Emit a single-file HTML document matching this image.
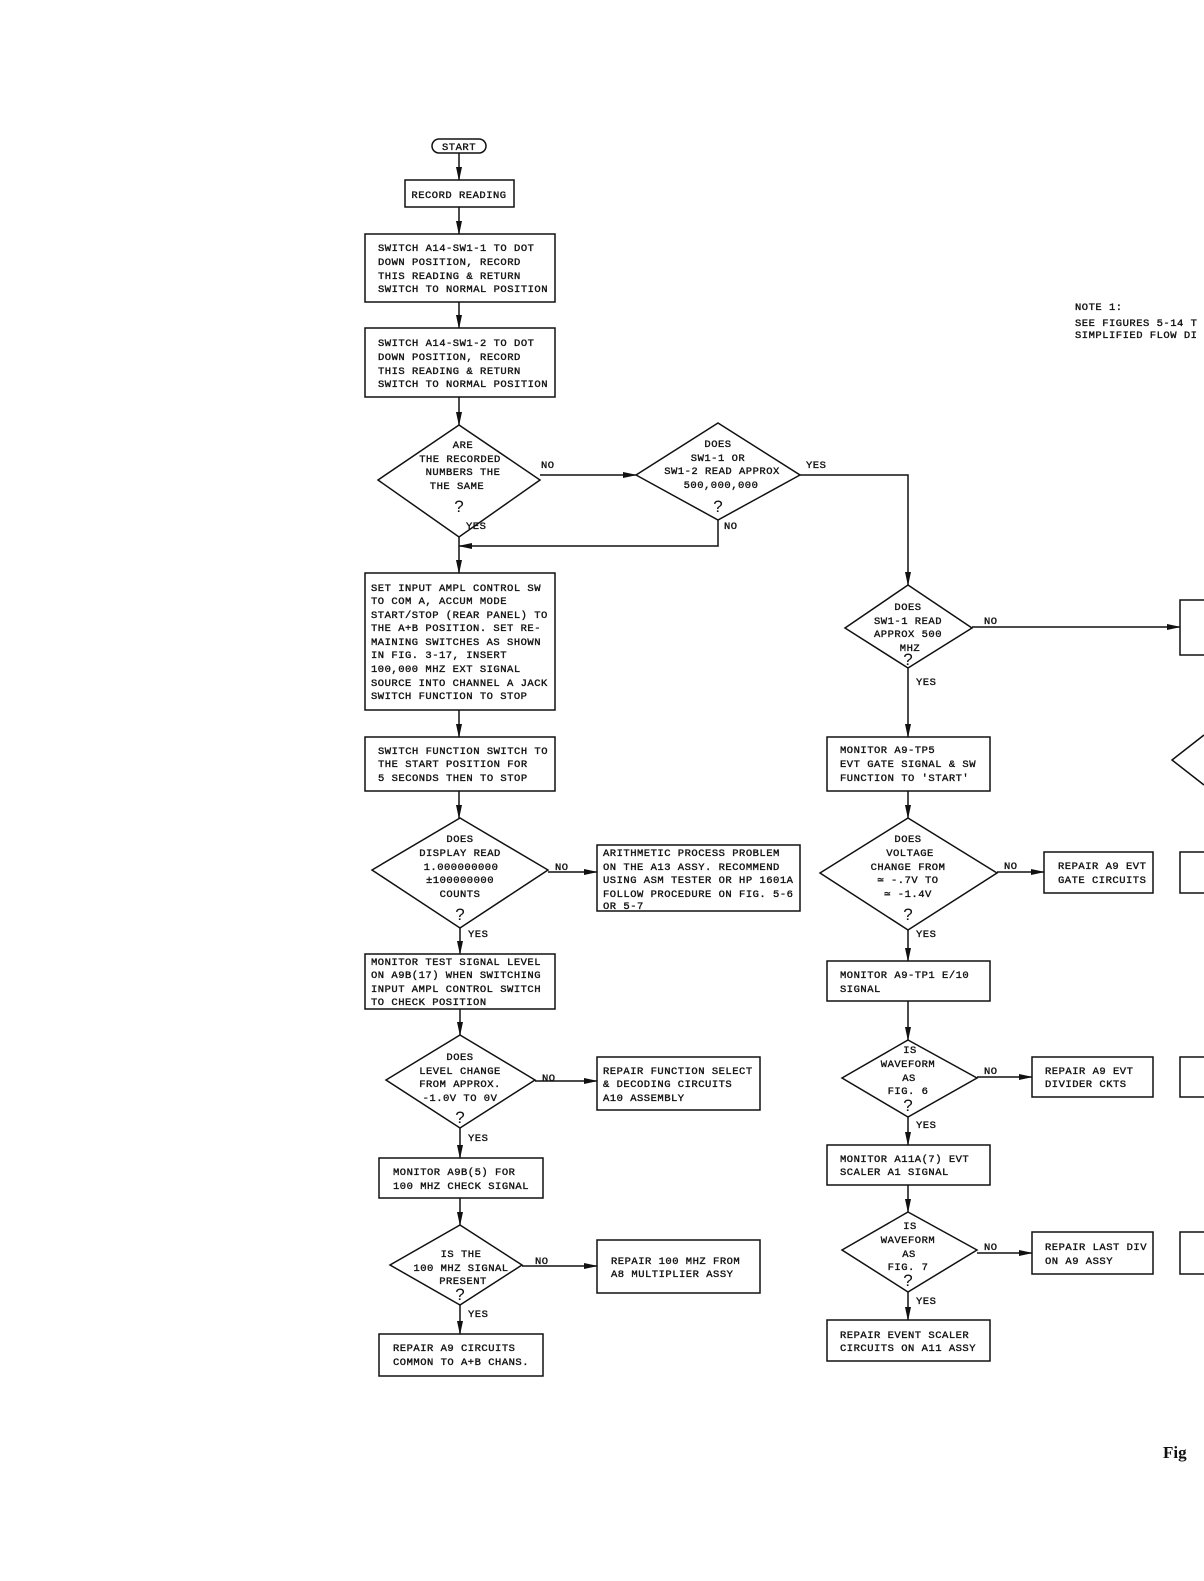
<!DOCTYPE html>
<html><head><meta charset="utf-8"><style>
html,body{margin:0;padding:0;background:#fff;}
svg{display:block;}
text{font-family:"Liberation Mono",monospace;font-size:10.5px;letter-spacing:0.5px;fill:#111;stroke:#111;stroke-width:0.35px;}
.c{text-anchor:middle;}
.q{font-family:"Liberation Sans",sans-serif;font-size:17px;letter-spacing:0;stroke-width:0;}
.fig{font-family:"Liberation Serif",serif;font-weight:bold;font-size:17px;letter-spacing:0;stroke-width:0;}
</style></head><body>
<svg width="1204" height="1581" viewBox="0 0 1204 1581" xmlns="http://www.w3.org/2000/svg">
<defs><marker id="a" markerWidth="14" markerHeight="8" refX="13" refY="4" orient="auto" markerUnits="userSpaceOnUse"><path d="M0,1 L14,4 L0,7 z" fill="#111"/></marker></defs>
<g stroke="#111" stroke-width="1.5" fill="none">
<rect x="432" y="139" width="54" height="14" rx="7"/>
<line x1="459" y1="153" x2="459" y2="180" marker-end="url(#a)"/>
<rect x="405" y="180" width="109" height="27"/>
<line x1="459" y1="207" x2="459" y2="234" marker-end="url(#a)"/>
<rect x="365" y="234" width="190" height="68"/>
<line x1="459" y1="302" x2="459" y2="328" marker-end="url(#a)"/>
<rect x="365" y="328" width="190" height="69"/>
<line x1="459" y1="397" x2="459" y2="425" marker-end="url(#a)"/>
<polygon points="459,425 540,480 459,537 378,480"/>
<line x1="540" y1="475" x2="636" y2="475" marker-end="url(#a)"/>
<polygon points="718,423 800,475 718,520 636,475"/>
<polyline points="718,520 718,546 459,546" marker-end="url(#a)"/>
<line x1="459" y1="537" x2="459" y2="573" marker-end="url(#a)"/>
<rect x="365" y="573" width="190" height="137"/>
<line x1="459" y1="710" x2="459" y2="737" marker-end="url(#a)"/>
<rect x="365" y="737" width="190" height="54"/>
<line x1="459" y1="791" x2="459" y2="818" marker-end="url(#a)"/>
<polygon points="460,818 548,870 460,928 372,870"/>
<line x1="548" y1="872" x2="597" y2="872" marker-end="url(#a)"/>
<rect x="597" y="845" width="203" height="66"/>
<line x1="460" y1="928" x2="460" y2="954" marker-end="url(#a)"/>
<rect x="365" y="954" width="190" height="55"/>
<line x1="460" y1="1009" x2="460" y2="1035" marker-end="url(#a)"/>
<polygon points="460,1035 535,1080 460,1128 386,1080"/>
<line x1="535" y1="1081" x2="597" y2="1081" marker-end="url(#a)"/>
<rect x="597" y="1057" width="163" height="53"/>
<line x1="460" y1="1128" x2="460" y2="1158" marker-end="url(#a)"/>
<rect x="379" y="1158" width="164" height="40"/>
<line x1="460" y1="1198" x2="460" y2="1225" marker-end="url(#a)"/>
<polygon points="460,1225 522,1265 460,1305 390,1265"/>
<line x1="522" y1="1266" x2="597" y2="1266" marker-end="url(#a)"/>
<rect x="597" y="1240" width="163" height="53"/>
<line x1="460" y1="1305" x2="460" y2="1334" marker-end="url(#a)"/>
<rect x="379" y="1334" width="164" height="42"/>
<polyline points="800,475 908,475 908,585" marker-end="url(#a)"/>
<polygon points="908,585 972,628 908,668 845,628"/>
<line x1="972" y1="627" x2="1180" y2="627" marker-end="url(#a)"/>
<polyline points="1204,600 1180,600 1180,655 1204,655"/>
<line x1="908" y1="668" x2="908" y2="737" marker-end="url(#a)"/>
<rect x="827" y="737" width="163" height="54"/>
<polyline points="1204,735 1172,760 1204,785"/>
<line x1="908" y1="791" x2="908" y2="818" marker-end="url(#a)"/>
<polygon points="908,818 997,873 908,930 820,873"/>
<line x1="997" y1="872" x2="1044" y2="872" marker-end="url(#a)"/>
<rect x="1044" y="852" width="109" height="41"/>
<polyline points="1204,852 1180,852 1180,893 1204,893"/>
<line x1="908" y1="930" x2="908" y2="961" marker-end="url(#a)"/>
<rect x="827" y="961" width="163" height="40"/>
<line x1="908" y1="1001" x2="908" y2="1040" marker-end="url(#a)"/>
<polygon points="908,1040 977,1078 908,1117 842,1078"/>
<line x1="977" y1="1077" x2="1032" y2="1077" marker-end="url(#a)"/>
<rect x="1032" y="1057" width="121" height="40"/>
<polyline points="1204,1057 1180,1057 1180,1097 1204,1097"/>
<line x1="908" y1="1117" x2="908" y2="1145" marker-end="url(#a)"/>
<rect x="827" y="1145" width="163" height="40"/>
<line x1="908" y1="1185" x2="908" y2="1212" marker-end="url(#a)"/>
<polygon points="908,1212 977,1250 908,1292 842,1250"/>
<line x1="977" y1="1253" x2="1032" y2="1253" marker-end="url(#a)"/>
<rect x="1032" y="1232" width="121" height="42"/>
<polyline points="1204,1232 1180,1232 1180,1274 1204,1274"/>
<line x1="908" y1="1292" x2="908" y2="1320" marker-end="url(#a)"/>
<rect x="827" y="1320" width="163" height="41"/>
</g>
<text x="459" y="150" class="c">START</text>
<text x="459" y="198" class="c">RECORD READING</text>
<text x="378" y="251">SWITCH A14-SW1-1 TO DOT</text>
<text x="378" y="265">DOWN POSITION, RECORD</text>
<text x="378" y="279">THIS READING &amp; RETURN</text>
<text x="378" y="292">SWITCH TO NORMAL POSITION</text>
<text x="378" y="346">SWITCH A14-SW1-2 TO DOT</text>
<text x="378" y="360">DOWN POSITION, RECORD</text>
<text x="378" y="374">THIS READING &amp; RETURN</text>
<text x="378" y="387">SWITCH TO NORMAL POSITION</text>
<text x="463" y="448" class="c">ARE</text>
<text x="460" y="462" class="c">THE RECORDED</text>
<text x="463" y="475" class="c">NUMBERS THE</text>
<text x="457" y="489" class="c">THE SAME</text>
<text x="459" y="512" class="c q">?</text>
<text x="466" y="529">YES</text>
<text x="541" y="468">NO</text>
<text x="718" y="447" class="c">DOES</text>
<text x="718" y="461" class="c">SW1-1 OR</text>
<text x="722" y="474" class="c">SW1-2 READ APPROX</text>
<text x="721" y="488" class="c">500,000,000</text>
<text x="718" y="512" class="c q">?</text>
<text x="724" y="529">NO</text>
<text x="806" y="468">YES</text>
<text x="371" y="591">SET INPUT AMPL CONTROL SW</text>
<text x="371" y="604">TO COM A, ACCUM MODE</text>
<text x="371" y="618">START/STOP (REAR PANEL) TO</text>
<text x="371" y="631">THE A+B POSITION. SET RE-</text>
<text x="371" y="645">MAINING SWITCHES AS SHOWN</text>
<text x="371" y="658">IN FIG. 3-17, INSERT</text>
<text x="371" y="672">100,000 MHZ EXT SIGNAL</text>
<text x="371" y="686">SOURCE INTO CHANNEL A JACK</text>
<text x="371" y="699">SWITCH FUNCTION TO STOP</text>
<text x="378" y="754">SWITCH FUNCTION SWITCH TO</text>
<text x="378" y="767">THE START POSITION FOR</text>
<text x="378" y="781">5 SECONDS THEN TO STOP</text>
<text x="460" y="842" class="c">DOES</text>
<text x="460" y="856" class="c">DISPLAY READ</text>
<text x="461" y="870" class="c">1.000000000</text>
<text x="460" y="883" class="c">±100000000</text>
<text x="460" y="897" class="c">COUNTS</text>
<text x="460" y="920" class="c q">?</text>
<text x="468" y="937">YES</text>
<text x="555" y="870">NO</text>
<text x="603" y="856">ARITHMETIC PROCESS PROBLEM</text>
<text x="603" y="870">ON THE A13 ASSY. RECOMMEND</text>
<text x="603" y="883">USING ASM TESTER OR HP 1601A</text>
<text x="603" y="897">FOLLOW PROCEDURE ON FIG. 5-6</text>
<text x="603" y="909">OR 5-7</text>
<text x="371" y="965">MONITOR TEST SIGNAL LEVEL</text>
<text x="371" y="978">ON A9B(17) WHEN SWITCHING</text>
<text x="371" y="992">INPUT AMPL CONTROL SWITCH</text>
<text x="371" y="1005">TO CHECK POSITION</text>
<text x="460" y="1060" class="c">DOES</text>
<text x="460" y="1074" class="c">LEVEL CHANGE</text>
<text x="460" y="1087" class="c">FROM APPROX.</text>
<text x="460" y="1101" class="c">-1.0V TO 0V</text>
<text x="460" y="1123" class="c q">?</text>
<text x="468" y="1141">YES</text>
<text x="542" y="1081">NO</text>
<text x="603" y="1074">REPAIR FUNCTION SELECT</text>
<text x="603" y="1087">&amp; DECODING CIRCUITS</text>
<text x="603" y="1101">A10 ASSEMBLY</text>
<text x="393" y="1175">MONITOR A9B(5) FOR</text>
<text x="393" y="1189">100 MHZ CHECK SIGNAL</text>
<text x="461" y="1257" class="c">IS THE</text>
<text x="461" y="1271" class="c">100 MHZ SIGNAL</text>
<text x="463" y="1284" class="c">PRESENT</text>
<text x="460" y="1300" class="c q">?</text>
<text x="468" y="1317">YES</text>
<text x="535" y="1264">NO</text>
<text x="611" y="1264">REPAIR 100 MHZ FROM</text>
<text x="611" y="1277">A8 MULTIPLIER ASSY</text>
<text x="393" y="1351">REPAIR A9 CIRCUITS</text>
<text x="393" y="1365">COMMON TO A+B CHANS.</text>
<text x="908" y="610" class="c">DOES</text>
<text x="908" y="624" class="c">SW1-1 READ</text>
<text x="908" y="637" class="c">APPROX 500</text>
<text x="910" y="651" class="c">MHZ</text>
<text x="908" y="665" class="c q">?</text>
<text x="916" y="685">YES</text>
<text x="984" y="624">NO</text>
<text x="840" y="753">MONITOR A9-TP5</text>
<text x="840" y="767">EVT GATE SIGNAL &amp; SW</text>
<text x="840" y="781">FUNCTION TO 'START'</text>
<text x="908" y="842" class="c">DOES</text>
<text x="910" y="856" class="c">VOLTAGE</text>
<text x="908" y="870" class="c">CHANGE FROM</text>
<text x="908" y="883" class="c">≃ -.7V TO</text>
<text x="908" y="897" class="c">≃ -1.4V</text>
<text x="908" y="920" class="c q">?</text>
<text x="916" y="937">YES</text>
<text x="1004" y="869">NO</text>
<text x="1058" y="869">REPAIR A9 EVT</text>
<text x="1058" y="883">GATE CIRCUITS</text>
<text x="840" y="978">MONITOR A9-TP1 E/10</text>
<text x="840" y="992">SIGNAL</text>
<text x="910" y="1053" class="c">IS</text>
<text x="908" y="1067" class="c">WAVEFORM</text>
<text x="909" y="1081" class="c">AS</text>
<text x="908" y="1094" class="c">FIG. 6</text>
<text x="908" y="1111" class="c q">?</text>
<text x="916" y="1128">YES</text>
<text x="984" y="1074">NO</text>
<text x="1045" y="1074">REPAIR A9 EVT</text>
<text x="1045" y="1087">DIVIDER CKTS</text>
<text x="840" y="1162">MONITOR A11A(7) EVT</text>
<text x="840" y="1175">SCALER A1 SIGNAL</text>
<text x="910" y="1229" class="c">IS</text>
<text x="908" y="1243" class="c">WAVEFORM</text>
<text x="909" y="1257" class="c">AS</text>
<text x="908" y="1270" class="c">FIG. 7</text>
<text x="908" y="1286" class="c q">?</text>
<text x="916" y="1304">YES</text>
<text x="984" y="1250">NO</text>
<text x="1045" y="1250">REPAIR LAST DIV</text>
<text x="1045" y="1264">ON A9 ASSY</text>
<text x="840" y="1338">REPAIR EVENT SCALER</text>
<text x="840" y="1351">CIRCUITS ON A11 ASSY</text>
<text x="1075" y="310">NOTE 1:</text>
<text x="1075" y="326">SEE FIGURES 5-14 T</text>
<text x="1075" y="338">SIMPLIFIED FLOW DI</text>
<text x="1163" y="1458" class="fig">Fig</text>
</svg>
</body></html>
